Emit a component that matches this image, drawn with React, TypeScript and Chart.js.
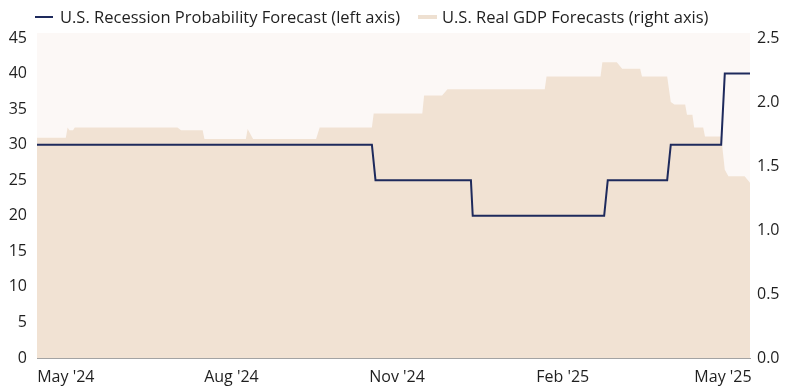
import React, { useEffect, useLayoutEffect, useRef } from "react";
import { Chart, registerables } from "chart.js";

Chart.register(...registerables);

const FONT = "'Open Sans', 'Noto Sans', sans-serif";
const TEXT = "#1f1f1f";
const NAVY = "#1e2a5c";
const BEIGE = "#f1e2d3";
const PLOT_BG = "#fcf8f6";

const START_DATE = "2024-04-15";
const END_DATE = "2025-05-16";

const tickDates = ["2024-05-01", "2024-08-01", "2024-11-01", "2025-02-01", "2025-05-01"];
const tickLabels = ["May '24", "Aug '24", "Nov '24", "Feb '25", "May '25"];

const recessionDates = [
  "2024-04-15", "2024-10-18", "2024-10-20", "2024-12-12", "2024-12-13", "2025-02-24",
  "2025-02-26", "2025-03-31", "2025-04-02", "2025-04-30", "2025-05-02", "2025-05-16",
];
const recessionValues = [30, 30, 25, 25, 20, 20, 25, 25, 30, 30, 40, 40];

const gdpDates = [
  "2024-04-15", "2024-05-01", "2024-05-02", "2024-05-03", "2024-05-05", "2024-05-06",
  "2024-07-02", "2024-07-04", "2024-07-16", "2024-07-17", "2024-08-09", "2024-08-10",
  "2024-08-13", "2024-09-17", "2024-09-19", "2024-10-18", "2024-10-19", "2024-11-15",
  "2024-11-16", "2024-11-26", "2024-11-29", "2025-01-22", "2025-01-23", "2025-02-22",
  "2025-02-23", "2025-03-03", "2025-03-06", "2025-03-16", "2025-03-17", "2025-03-31",
  "2025-04-02", "2025-04-04", "2025-04-10", "2025-04-11", "2025-04-14", "2025-04-15",
  "2025-04-20", "2025-04-21", "2025-04-30", "2025-05-02", "2025-05-04", "2025-05-13",
  "2025-05-16",
];
const gdpValues = [
  1.72, 1.72, 1.8, 1.78, 1.78, 1.8,
  1.8, 1.78, 1.78, 1.71, 1.71, 1.79,
  1.71, 1.71, 1.8, 1.8, 1.91, 1.91,
  2.05, 2.05, 2.1, 2.1, 2.2, 2.2,
  2.31, 2.31, 2.26, 2.26, 2.2, 2.2,
  2.0, 1.98, 1.98, 1.9, 1.9, 1.8,
  1.8, 1.73, 1.73, 1.47, 1.42, 1.42,
  1.37,
];

const dayOf = (d: string) => (Date.parse(d) - Date.parse(START_DATE)) / 86400000;

const plotBg = {
  id: "plotBg",
  beforeDraw(chart: any) {
    const { ctx, chartArea } = chart;
    ctx.save();
    ctx.fillStyle = PLOT_BG;
    ctx.fillRect(chartArea.left, chartArea.top - 5, chartArea.right - chartArea.left, chartArea.bottom - chartArea.top + 5);
    ctx.restore();
  },
};

export default function App() {
  const ref = useRef<HTMLCanvasElement>(null);

  useLayoutEffect(() => {
    const prev = document.body.style.marginBottom;
    document.body.style.marginBottom = "0px";
    return () => {
      document.body.style.marginBottom = prev;
    };
  }, []);

  useEffect(() => {
    const chart = new Chart(ref.current as HTMLCanvasElement, {
      type: "line",
      data: {
        datasets: [
          {
            label: "U.S. Recession Probability Forecast (left axis)",
            data: recessionDates.map((d, i) => ({ x: dayOf(d), y: recessionValues[i] })),
            borderColor: NAVY,
            backgroundColor: NAVY,
            borderWidth: 2,
            pointRadius: 0,
            tension: 0,
            fill: false,
            yAxisID: "y",
            order: 0,
          },
          {
            label: "U.S. Real GDP Forecasts (right axis)",
            data: gdpDates.map((d, i) => ({ x: dayOf(d), y: gdpValues[i] })),
            borderColor: BEIGE,
            backgroundColor: BEIGE,
            borderWidth: 0,
            pointRadius: 0,
            tension: 0,
            fill: "origin",
            yAxisID: "y1",
            order: 1,
          },
        ],
      },
      options: {
        animation: false,
        responsive: false,
        maintainAspectRatio: false,
        layout: { padding: { top: 30, left: 0, right: 0, bottom: 0 } },
        plugins: {
          legend: { display: false },
          tooltip: { enabled: false },
        },
        scales: {
          x: {
            type: "linear",
            min: 0,
            max: dayOf(END_DATE),
            grid: { display: false, drawTicks: false },
            border: { display: true, color: "#a3a3a3", width: 1 },
            afterBuildTicks: (scale: any) => {
              scale.ticks = tickDates.map((d) => ({ value: dayOf(d) }));
            },
            afterFit: (scale: any) => {
              scale.height = 32;
            },
            ticks: {
              autoSkip: false,
              maxRotation: 0,
              padding: 10,
              color: TEXT,
              font: { family: FONT, size: 16 },
              callback: (_v: any, i: number) => tickLabels[i],
            },
          },
          y: {
            position: "left",
            min: 0,
            max: 45,
            grid: { display: false, drawTicks: false },
            border: { display: false },
            afterFit: (scale: any) => {
              scale.width = 29;
            },
            ticks: {
              stepSize: 5,
              padding: 10,
              color: TEXT,
              font: { family: FONT, size: 16 },
            },
          },
          y1: {
            position: "right",
            min: 0,
            max: 2.5,
            grid: { display: false, drawTicks: false },
            border: { display: false },
            afterFit: (scale: any) => {
              scale.width = 34;
            },
            ticks: {
              stepSize: 0.5,
              padding: 7,
              color: TEXT,
              font: { family: FONT, size: 16 },
              callback: (v: any) => Number(v).toFixed(1),
            },
          },
        },
      },
      plugins: [plotBg],
    });
    return () => chart.destroy();
  }, []);

  const itemText: React.CSSProperties = {
    position: "absolute",
    top: -1,
    fontSize: 16.5,
    lineHeight: "20px",
    color: TEXT,
    whiteSpace: "nowrap",
  };

  return (
    <div style={{ position: "relative", width: 776, height: 382, fontFamily: FONT }}>
      <div style={{ position: "absolute", left: 27, top: 8, width: 18, height: 2, background: NAVY }} />
      <div style={{ ...itemText, left: 52 }}>U.S. Recession Probability Forecast (left axis)</div>
      <div style={{ position: "absolute", left: 410, top: 7, width: 19, height: 4, background: "#eee0d1" }} />
      <div style={{ ...itemText, left: 434 }}>U.S. Real GDP Forecasts (right axis)</div>
      <canvas ref={ref} width={776} height={382} style={{ display: "block", width: 776, height: 382 }} />
    </div>
  );
}
